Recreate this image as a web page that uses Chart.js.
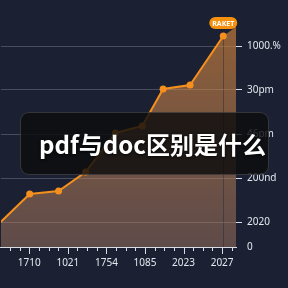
<!DOCTYPE html>
<html>
<head>
<meta charset="utf-8">
<script src="https://cdn.jsdelivr.net/npm/chart.js@4.4.1/dist/chart.umd.min.js"></script>
<style>
  html, body { margin: 0; padding: 0; background: #1b2133; }
  #wrap { position: relative; width: 288px; height: 288px; overflow: hidden; }
  #overlay {
    position: absolute; left: 20px; top: 112px; width: 249px; height: 63px;
    box-sizing: border-box; border-radius: 9px;
    background: rgba(12, 12, 14, 0.82); border: 1px solid rgba(255,255,255,0.16);
    color: #fff; font: bold 24px "Noto Sans CJK SC", "Noto Sans", sans-serif;
    display: flex; align-items: center; justify-content: flex-end; padding-right: 2px;
    text-shadow: 0 1px 3px rgba(0,0,0,0.8);
  }
</style>
</head>
<body>
<div id="wrap">
  <canvas id="chart" width="288" height="288"></canvas>
  <div id="overlay">pdf与doc区别是什么</div>
</div>
<script>
// ── data ──
const xValues = [0.26, 1.01, 1.76, 2.46, 3.23, 3.93, 4.47, 5.17, 6.03, 6.36];
const yValues = [25, 53, 56, 75, 114, 121, 158, 162, 211, 220];
const xTickLabels = ['1710', '1021', '1754', '1085', '2023', '2027'];
const yTickValues = [0, 25, 69, 113, 157, 201];
const yTickLabels = ['0', '2020', '200nd', '46pm', '30pm', '1000.%'];
const badgeText = 'RAKET';

const lastIdx = xValues.length - 1;
const points = xValues.map((x, i) => ({ x: x, y: yValues[i] }));

Chart.defaults.font.family = "'Noto Sans', sans-serif";
Chart.defaults.font.size = 10;
Chart.defaults.color = '#e4e7ee';

// minor / major ticks under the x axis + the badge on the last point
const extras = {
  id: 'extras',
  afterDraw(chart) {
    const ctx = chart.ctx;
    const xs = chart.scales.x;
    const bottom = chart.chartArea.bottom;
    ctx.save();
    ctx.strokeStyle = '#d8dce4';
    ctx.lineWidth = 1;
    xs.ticks.forEach(t => {
      const px = Math.round(xs.getPixelForValue(t.value)) + 0.5;
      const major = Math.abs(t.value - Math.round(t.value)) < 1e-6;
      ctx.beginPath();
      ctx.moveTo(px, bottom);
      ctx.lineTo(px, bottom + (major ? 7 : 4));
      ctx.stroke();
    });
    // badge
    const meta = chart.getDatasetMeta(0);
    const p = meta.data[lastIdx - 1];
    const bx = p.x, by = chart.chartArea.top + 3;
    const w = 28, h = 12;
    ctx.fillStyle = '#f5900f';
    ctx.beginPath();
    ctx.roundRect(bx - w / 2, by - h / 2, w, h, 6);
    ctx.fill();
    ctx.fillStyle = '#fff';
    ctx.font = "bold 7px 'Noto Sans', sans-serif";
    ctx.textAlign = 'center';
    ctx.textBaseline = 'middle';
    ctx.fillText(badgeText, bx, by + 0.5);
    ctx.restore();
  }
};

const el = document.getElementById('chart');
new Chart(el, {
  type: 'line',
  data: {
    datasets: [{
      data: points,
      borderColor: '#f5901e',
      borderWidth: 2,
      pointRadius: xValues.map((_, i) => (i === 0 || i === lastIdx) ? 0 : 3.5),
      pointBackgroundColor: '#f5901e',
      pointBorderWidth: 0,
      tension: 0,
      fill: 'origin',
      segment: {
        borderColor: c => c.p1DataIndex === lastIdx ? 'transparent' : undefined
      },
      backgroundColor: c => {
        const area = c.chart.chartArea;
        if (!area) return 'rgba(200,120,60,0.5)';
        const g = c.chart.ctx.createLinearGradient(0, area.top, 0, area.bottom);
        g.addColorStop(0, 'rgba(220,135,55,0.62)');
        g.addColorStop(1, 'rgba(190,135,105,0.42)');
        return g;
      }
    }]
  },
  options: {
    responsive: false,
    animation: false,
    layout: { padding: { top: 20, left: 0, right: 0, bottom: 0 } },
    plugins: { legend: { display: false }, tooltip: { enabled: false } },
    scales: {
      x: {
        type: 'linear',
        min: 0.264,
        max: 6.36,
        afterBuildTicks: s => {
          const t = [];
          for (let v = 0.5; v <= 6.26; v += 0.25) t.push({ value: Math.round(v * 100) / 100 });
          s.ticks = t;
        },
        afterFit: s => { s.height = 41; },
        border: { color: '#d8dce4', width: 1 },
        grid: { display: false, drawTicks: false },
        ticks: {
          autoSkip: false,
          maxRotation: 0,
          padding: 10,
          color: '#e4e7ee',
          callback: v => Number.isInteger(v) ? xTickLabels[v - 1] : ''
        }
      },
      y: {
        position: 'right',
        min: 0,
        max: 227,
        afterBuildTicks: s => { s.ticks = yTickValues.map(v => ({ value: v })); },
        afterFit: s => { s.width = 52; },
        border: { display: false },
        grid: {
          color: c => c.tick && c.tick.value === 0 ? 'transparent' : 'rgba(255,255,255,0.2)',
          tickColor: c => c.tick && c.tick.value === 0 ? 'transparent' : '#d8dce4',
          tickLength: 6
        },
        ticks: {
          padding: 5,
          color: '#e4e7ee',
          callback: (v, i) => yTickLabels[yTickValues.indexOf(v)]
        }
      }
    }
  },
  plugins: [extras]
});
</script>
</body>
</html>
